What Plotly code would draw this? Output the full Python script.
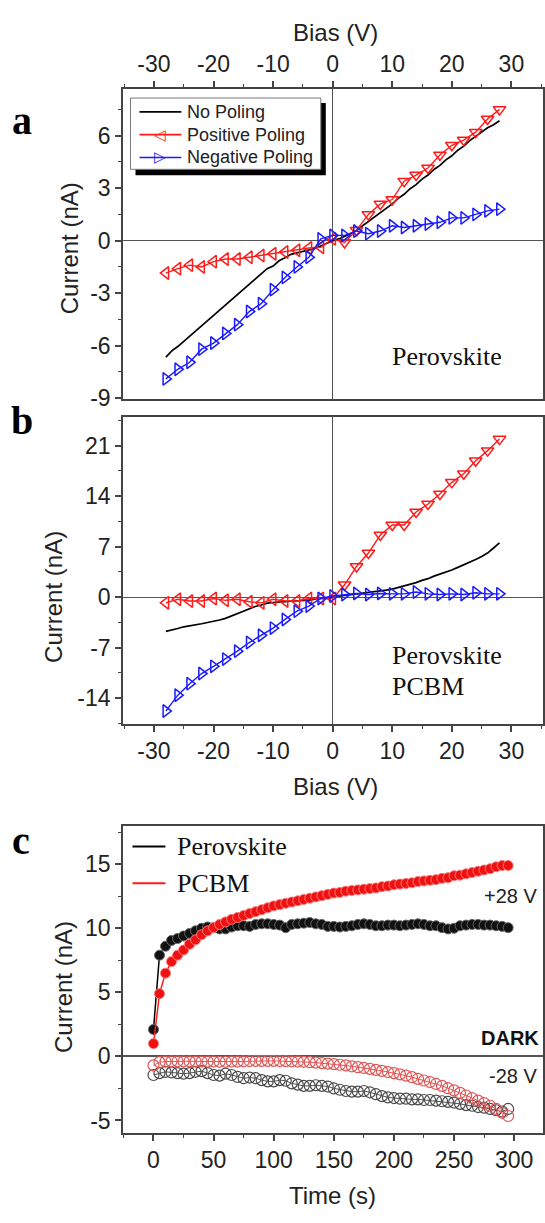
import plotly.graph_objects as go

# ---------------- data ----------------
bias_fine = [-28, -27, -26, -25, -24, -23, -22, -21, -20, -19, -18, -17, -16, -15, -14,
             -13, -12, -11, -10, -9, -8, -7, -6, -5, -4, -3, -2, -1, 0, 1, 2, 3, 4, 5,
             6, 7, 8, 9, 10, 11, 12, 13, 14, 15, 16, 17, 18, 19, 20, 21, 22, 23, 24, 25,
             26, 27, 28]
bias_mark = [-28, -26, -24, -22, -20, -18, -16, -14, -12, -10, -8, -6, -4, -2, 0,
             2, 4, 6, 8, 10, 12, 14, 16, 18, 20, 22, 24, 26, 28]

# panel a : Perovskite
a_no_poling = [-6.65, -6.3, -6.05, -5.75, -5.5, -5.15, -4.9, -4.55, -4.3, -3.95, -3.7, -3.35,
               -3.1, -2.75, -2.5, -2.15, -1.9, -1.6, -1.45, -1.15, -0.98, -0.78, -0.7, -0.62,
               -0.55, -0.45, -0.3, -0.15, 0.0, 0.1, 0.25, 0.4, 0.6, 0.85, 1.1, 1.38, 1.6, 1.9,
               2.1, 2.42, 2.65, 2.97, 3.2, 3.52, 3.75, 4.07, 4.3, 4.62, 4.85, 5.17, 5.4, 5.72,
               5.95, 6.22, 6.45, 6.62, 6.85]
a_positive = [-1.85, -1.6, -1.4, -1.5, -1.2, -1.05, -1.05, -0.95, -0.85, -0.75, -0.65, -0.55,
              -0.42, -0.38, 0.1, -0.1, 0.6, 1.5, 2.1, 2.35, 3.4, 3.75, 4.15, 4.9, 5.45, 5.75,
              6.2, 6.95, 7.5]
a_negative = [-7.9, -7.35, -6.95, -6.2, -5.85, -5.3, -4.8, -4.05, -3.6, -2.8, -2.1, -1.5,
              -0.95, 0.1, 0.3, 0.3, 0.55, 0.4, 0.55, 0.85, 0.75, 0.85, 0.95, 1.05, 1.3, 1.3,
              1.5, 1.7, 1.8]

# panel b : Perovskite / PCBM
b_no_poling = [-4.75, -4.5, -4.35, -4.12, -4.0, -3.78, -3.7, -3.52, -3.4, -3.18, -2.95, -2.6,
               -2.35, -1.9, -1.6, -1.3, -1.1, -0.85, -0.75, -0.65, -0.62, -0.58, -0.55, -0.5,
               -0.42, -0.3, -0.2, -0.1, 0.0, 0.1, 0.18, 0.3, 0.38, 0.5, 0.58, 0.7, 0.8, 0.97,
               1.1, 1.32, 1.5, 1.78, 2.0, 2.32, 2.55, 2.9, 3.15, 3.45, 3.75, 4.12, 4.45, 4.82,
               5.2, 5.62, 6.1, 6.8, 7.5]
b_positive = [-0.8, -0.3, -0.55, -0.55, -0.2, -0.45, -0.3, -0.65, -0.8, -0.3, -0.55, -0.55,
              -0.2, -0.2, -0.2, 1.7, 4.25, 6.1, 8.6, 10.0, 10.0, 11.8, 12.9, 14.3, 15.9, 17.1,
              18.9, 20.3, 21.9]
b_negative = [-15.8, -13.6, -12.0, -10.6, -9.6, -8.6, -7.5, -6.3, -5.3, -4.3, -3.1, -1.95,
              -1.25, -0.2, 0.15, 0.35, 0.5, 0.35, 0.5, 0.45, 0.45, 0.7, 0.45, 0.35, 0.45, 0.35,
              0.6, 0.45, 0.45]

# panel c : time response in the dark
time_s = [0, 5, 10, 15, 20, 25, 30, 35, 40, 45, 50, 55, 60, 65, 70, 75, 80, 85, 90, 95,
          100, 105, 110, 115, 120, 125, 130, 135, 140, 145, 150, 155, 160, 165, 170, 175,
          180, 185, 190, 195, 200, 205, 210, 215, 220, 225, 230, 235, 240, 245, 250, 255,
          260, 265, 270, 275, 280, 285, 290, 295]
c_perovskite_pos = [2.1, 7.9, 8.6, 9.05, 9.2, 9.4, 9.6, 9.8, 10.0, 10.1, 10.05, 9.95, 9.95,
                    10.1, 10.2, 10.2, 10.15, 10.3, 10.35, 10.35, 10.3, 10.25, 10.05, 10.3,
                    10.35, 10.4, 10.45, 10.35, 10.3, 10.15, 10.15, 10.1, 10.15, 10.2, 10.3,
                    10.35, 10.3, 10.2, 10.2, 10.25, 10.25, 10.2, 10.25, 10.3, 10.35, 10.3,
                    10.2, 10.2, 10.05, 9.95, 10.0, 10.2, 10.25, 10.3, 10.3, 10.25, 10.25,
                    10.2, 10.15, 10.05]
c_pcbm_pos = [1.0, 4.9, 6.5, 7.4, 7.9, 8.3, 8.75, 9.1, 9.5, 9.8, 10.05, 10.3, 10.5, 10.7,
              10.85, 11.0, 11.15, 11.3, 11.45, 11.6, 11.75, 11.85, 11.95, 12.05, 12.15, 12.25,
              12.35, 12.45, 12.55, 12.65, 12.75, 12.8, 12.9, 12.95, 13.0, 13.05, 13.1, 13.15,
              13.25, 13.3, 13.4, 13.45, 13.5, 13.55, 13.65, 13.7, 13.75, 13.8, 13.9, 13.95,
              14.1, 14.15, 14.25, 14.35, 14.45, 14.55, 14.65, 14.8, 14.9, 14.9]
c_perovskite_neg = [-1.45, -1.3, -1.2, -1.25, -1.3, -1.35, -1.3, -1.2, -1.15, -1.3, -1.45,
                    -1.5, -1.35, -1.45, -1.6, -1.7, -1.65, -1.7, -1.85, -1.95, -1.95, -1.85,
                    -1.9, -2.1, -2.2, -2.3, -2.3, -2.25, -2.3, -2.35, -2.5, -2.6, -2.7, -2.75,
                    -2.75, -2.7, -2.8, -2.95, -3.1, -3.2, -3.25, -3.3, -3.3, -3.35, -3.35,
                    -3.4, -3.4, -3.45, -3.5, -3.55, -3.6, -3.7, -3.8, -3.85, -3.95, -4.0,
                    -4.1, -4.2, -4.3, -4.1]
c_pcbm_neg = [-0.7, -0.45, -0.4, -0.38, -0.38, -0.38, -0.38, -0.4, -0.4, -0.4, -0.4, -0.42,
              -0.42, -0.4, -0.4, -0.38, -0.36, -0.35, -0.35, -0.35, -0.35, -0.36, -0.37,
              -0.38, -0.4, -0.42, -0.45, -0.48, -0.52, -0.56, -0.6, -0.65, -0.7, -0.77,
              -0.84, -0.9, -0.97, -1.05, -1.13, -1.22, -1.3, -1.4, -1.5, -1.62, -1.75, -1.88,
              -2.0, -2.15, -2.3, -2.48, -2.65, -2.85, -3.05, -3.25, -3.45, -3.65, -3.85,
              -4.1, -4.4, -4.65]

# legend / tick labels
a_series_names = ["No Poling", "Positive Poling", "Negative Poling"]
c_series_names = ["Perovskite", "PCBM"]
bias_ticks = [-30, -20, -10, 0, 10, 20, 30]
bias_ticklabels = ["-30", "-20", "-10", "0", "10", "20", "30"]
a_yticks = [-9, -6, -3, 0, 3, 6]
a_yticklabels = ["-9", "-6", "-3", "0", "3", "6"]
b_yticks = [-14, -7, 0, 7, 14, 21]
b_yticklabels = ["-14", "-7", "0", "7", "14", "21"]
c_xticks = [0, 50, 100, 150, 200, 250, 300]
c_xticklabels = ["0", "50", "100", "150", "200", "250", "300"]
c_yticks = [-5, 0, 5, 10, 15]
c_yticklabels = ["-5", "0", "5", "10", "15"]

# ---------------- layout helpers ----------------
W, H = 545, 1223
def px(p):
    return p / W
def py(p):
    return 1 - p / H

SANS = "Liberation Sans, Arial, sans-serif"
SERIF = "Liberation Serif, Times New Roman, serif"
AXC = "#444444"
RED = "#ff1a1a"
BLUE = "#1a1aff"

red_sym = ["triangle-left-open" if v <= 0 else "triangle-down-open" for v in bias_mark]

fig = go.Figure()

# panel a
fig.add_trace(go.Scatter(x=bias_fine, y=a_no_poling, mode="lines", name=a_series_names[0],
                         line=dict(color="black", width=1.7), xaxis="x", yaxis="y"))
fig.add_trace(go.Scatter(x=bias_mark, y=a_positive, mode="lines+markers", name=a_series_names[1],
                         line=dict(color=RED, width=1.4),
                         marker=dict(symbol=red_sym, size=11, color=RED,
                                     line=dict(width=1.5, color=RED)),
                         xaxis="x", yaxis="y"))
fig.add_trace(go.Scatter(x=bias_mark, y=a_negative, mode="lines+markers", name=a_series_names[2],
                         line=dict(color=BLUE, width=1.4),
                         marker=dict(symbol="triangle-right-open", size=11, color=BLUE,
                                     line=dict(width=1.5, color=BLUE)),
                         xaxis="x", yaxis="y"))

# panel b
fig.add_trace(go.Scatter(x=bias_fine, y=b_no_poling, mode="lines", name=a_series_names[0],
                         line=dict(color="black", width=1.7), xaxis="x2", yaxis="y2"))
fig.add_trace(go.Scatter(x=bias_mark, y=b_positive, mode="lines+markers", name=a_series_names[1],
                         line=dict(color=RED, width=1.4),
                         marker=dict(symbol=red_sym, size=11, color=RED,
                                     line=dict(width=1.5, color=RED)),
                         xaxis="x2", yaxis="y2"))
fig.add_trace(go.Scatter(x=bias_mark, y=b_negative, mode="lines+markers", name=a_series_names[2],
                         line=dict(color=BLUE, width=1.4),
                         marker=dict(symbol="triangle-right-open", size=11, color=BLUE,
                                     line=dict(width=1.5, color=BLUE)),
                         xaxis="x2", yaxis="y2"))

# panel c
fig.add_trace(go.Scatter(x=time_s, y=c_perovskite_neg, mode="lines+markers", name="Perovskite -28 V",
                         line=dict(color="#555555", width=1),
                         marker=dict(symbol="circle-open", size=11, color="#4a4a4a",
                                     line=dict(width=1.2, color="#4a4a4a")),
                         xaxis="x3", yaxis="y3"))
fig.add_trace(go.Scatter(x=time_s, y=c_pcbm_neg, mode="lines+markers", name="PCBM -28 V",
                         line=dict(color="#e05555", width=1),
                         marker=dict(symbol="circle-open", size=11, color="#e05555",
                                     line=dict(width=1.2, color="#e05555")),
                         xaxis="x3", yaxis="y3"))
fig.add_trace(go.Scatter(x=time_s, y=c_perovskite_pos, mode="lines+markers", name="Perovskite +28 V",
                         line=dict(color="black", width=1.5),
                         marker=dict(symbol="circle", size=10, color="#111111",
                                     line=dict(width=1, color="#666666")),
                         xaxis="x3", yaxis="y3"))
fig.add_trace(go.Scatter(x=time_s, y=c_pcbm_pos, mode="lines+markers", name="PCBM +28 V",
                         line=dict(color=RED, width=1.5),
                         marker=dict(symbol="circle", size=10, color="#ee1111",
                                     line=dict(width=1, color="#ff7777")),
                         xaxis="x3", yaxis="y3"))

xdom = [px(123.4), 1.0]

def axis_common(tickvals, ticktext, minor_dtick, tick0=0):
    return dict(
        tickmode="array", tickvals=tickvals, ticktext=ticktext,
        ticks="outside", ticklen=6, tickwidth=1.5, tickcolor=AXC,
        minor=dict(ticks="outside", ticklen=3.5, tickwidth=1.2, tickcolor=AXC,
                   dtick=minor_dtick, tick0=tick0, showgrid=False),
        showline=True, linecolor=AXC, linewidth=1.5, mirror=True,
        showgrid=False, tickfont=dict(family=SANS, size=23, color="#222222"),
    )

fig.update_layout(
    width=W, height=H, margin=dict(l=0, r=0, t=0, b=0),
    paper_bgcolor="white", plot_bgcolor="white", showlegend=False,
    xaxis=dict(domain=xdom, anchor="y", side="top", range=[-35.2, 35.3],
               zeroline=True, zerolinecolor="#555555", zerolinewidth=1.2,
               **axis_common(bias_ticks, bias_ticklabels, 5)),
    yaxis=dict(domain=[py(403), py(90)], anchor="x", range=[-9.05, 8.66],
               zeroline=True, zerolinecolor="#555555", zerolinewidth=1.2,
               **axis_common(a_yticks, a_yticklabels, 1.5)),
    xaxis2=dict(domain=xdom, anchor="y2", side="bottom", range=[-35.2, 35.3],
                zeroline=True, zerolinecolor="#555555", zerolinewidth=1.2,
                **axis_common(bias_ticks, bias_ticklabels, 5)),
    yaxis2=dict(domain=[py(731), py(421)], anchor="x2", range=[-17.57, 24.98],
                zeroline=True, zerolinecolor="#555555", zerolinewidth=1.2,
                **axis_common(b_yticks, b_yticklabels, 3.5)),
    xaxis3=dict(domain=xdom, anchor="y3", side="bottom", range=[-25.4, 324],
                zeroline=False,
                **axis_common(c_xticks, c_xticklabels, 25)),
    yaxis3=dict(domain=[py(1144), py(834)], anchor="x3", range=[-5.96, 18.0],
                zeroline=True, zerolinecolor="#555555", zerolinewidth=1.5,
                **axis_common(c_yticks, c_yticklabels, 2.5)),
)

shapes = []
def rect(x0, y0, x1, y1, fill, line_color=None, lw=0):
    shapes.append(dict(type="rect", xref="paper", yref="paper",
                       x0=px(x0), x1=px(x1), y0=py(y1), y1=py(y0), fillcolor=fill,
                       line=dict(width=lw, color=line_color or fill), layer="above"))
def hline(x0, x1, y, color, lw):
    shapes.append(dict(type="line", xref="paper", yref="paper",
                       x0=px(x0), x1=px(x1), y0=py(y), y1=py(y),
                       line=dict(width=lw, color=color), layer="above"))

ann = []
def text(x, y, s, size, family=SANS, xanchor="center", yanchor="middle", angle=0, color="#222222"):
    ann.append(dict(x=px(x), y=py(y), xref="paper", yref="paper", text=s, showarrow=False,
                    font=dict(family=family, size=size, color=color), xanchor=xanchor,
                    yanchor=yanchor, textangle=angle))

# legend of panel a (box with drop shadow)
rect(136, 104, 327, 177, "black")
rect(131, 99, 322, 171, "white", "#777777", 1)
leg_rows = [113, 136, 159]
leg_colors = ["black", RED, BLUE]
leg_glyphs = [None, "\u25c1", "\u25b7"]
for name, row, col, gl in zip(a_series_names, leg_rows, leg_colors, leg_glyphs):
    hline(140, 182, row, col, 1.6)
    if gl:
        text(161, row, gl, 15, family="DejaVu Sans", color=col)
    text(186, row, name, 18, xanchor="left")

# legend of panel c
c_leg_rows = [855, 892]
c_leg_colors = ["black", RED]
for name, row, col in zip(c_series_names, c_leg_rows, c_leg_colors):
    hline(133, 166, row, col, 2)
    text(176, row, name, 26, family=SERIF, xanchor="left", color="#111111")

text(337, 33, "Bias (V)", 24)
text(337, 794, "Bias (V)", 24)
text(334, 1207, "Time (s)", 24)
text(70, 251, "Current (nA)", 24, angle=-90)
text(53, 603, "Current (nA)", 24, angle=-90)
text(63, 997, "Current (nA)", 24, angle=-90)
text(22, 122, "<b>a</b>", 40, family=SERIF, color="black")
text(22, 425, "<b>b</b>", 40, family=SERIF, color="black")
text(21, 849, "<b>c</b>", 40, family=SERIF, color="black")
text(391, 360, "Perovskite", 26, family=SERIF, xanchor="left", color="#111111")
text(391, 662, "Perovskite", 26, family=SERIF, xanchor="left", color="#111111")
text(391, 693, "PCBM", 26, family=SERIF, xanchor="left", color="#111111")
text(541, 905, "+28 V", 20, xanchor="right")
text(543, 1048, "<b>DARK</b>", 20, xanchor="right", color="#111111")
text(541, 1087, "-28 V", 20, xanchor="right")
fig.update_layout(annotations=ann, shapes=shapes)

fig.write_html("out.html", config={"displayModeBar": False},
               post_script="document.body.style.margin='0px';document.body.style.overflow='hidden';")
